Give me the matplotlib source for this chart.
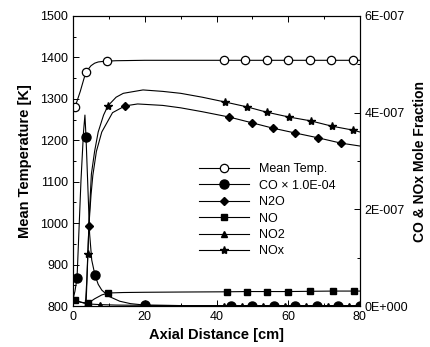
import numpy as np
import matplotlib.pyplot as plt
from matplotlib.ticker import MultipleLocator, FuncFormatter

plt.rcParams['font.family'] = ['Liberation Sans', 'DejaVu Sans']

# ---------------- data ----------------
# mean temperature [K]
temp_x = [0, 0.5, 1, 2, 3, 3.6, 5, 6, 7, 8, 9.5, 12, 20, 30, 42, 48, 54, 60, 66, 72, 78, 80]
temp_y = [1278, 1280, 1292, 1318, 1348, 1365, 1380, 1386, 1389, 1390, 1391, 1392, 1393, 1393,
          1393, 1393, 1393, 1393, 1393, 1393, 1393, 1393]
temp_marks = [0.5, 3.6, 9.5, 42, 48, 54, 60, 66, 72, 78]

# species, mole fraction in units of 1E-007
co_x = [0, 0.5, 1.1, 1.6, 2.2, 2.9, 3.3, 3.6, 4.2, 4.6, 5.2, 6.1, 7, 8, 10, 13, 16, 20, 30,
        44, 50, 56, 62, 68, 74, 80]
co_y = [0.15, 0.3, 0.58, 1.5, 2.6, 3.6, 3.95, 3.5, 2.3, 1.5, 0.95, 0.64, 0.45, 0.33, 0.2, 0.1,
        0.05, 0.02, 0.01, 0.005, 0.005, 0.005, 0.005, 0.005, 0.005, 0.005]
co_marks = [1.1, 3.6, 6.1, 20, 44, 50, 56, 62, 68, 74, 80]

n2o_x = [3.6, 3.9, 4.4, 5, 5.5, 6.5, 8, 11, 14.5, 18, 25, 30, 36, 43.5, 49.9, 55.7, 61.9, 68.3,
         74.7, 80]
n2o_y = [0.0, 0.6, 1.65, 2.3, 2.7, 3.2, 3.6, 4.0, 4.14, 4.18, 4.15, 4.1, 4.02, 3.91, 3.79, 3.68,
         3.58, 3.48, 3.37, 3.31]
n2o_marks = [4.4, 14.5, 43.5, 49.9, 55.7, 61.9, 68.3, 74.7]

no_x = [0, 0.5, 2, 4.2, 6, 8, 9.8, 14, 20, 30, 43, 48.5, 54, 60, 66, 72.5, 78.3, 80]
no_y = [0.15, 0.12, 0.08, 0.06, 0.15, 0.23, 0.27, 0.28, 0.285, 0.29, 0.295, 0.3, 0.3, 0.3, 0.305,
        0.31, 0.31, 0.31]
no_marks = [0.5, 4.2, 9.8, 43, 48.5, 54, 60, 66, 72.5, 78.3]

no2_x = [0, 0.5, 1.5, 3, 5, 7.5, 12, 20, 30, 42, 47, 53, 59, 65, 71, 77, 80]
no2_y = [0.2, 0.15, 0.1, 0.06, 0.04, 0.03, 0.02, 0.015, 0.01, 0.01, 0.01, 0.01, 0.01, 0.01,
         0.01, 0.01, 0.01]
no2_marks = [7.5, 42, 47, 53, 59, 65, 71, 77]

nox_x = [3.4, 3.8, 4.1, 4.6, 5.1, 6, 7, 8.5, 9.7, 12, 14, 19.5, 25, 30, 36, 42.4, 48.5, 54, 60.2,
         66.3, 72.2, 78, 80]
nox_y = [0.0, 0.5, 1.08, 2.0, 2.73, 3.2, 3.6, 3.95, 4.14, 4.32, 4.4, 4.47, 4.44, 4.4, 4.32, 4.22,
         4.12, 4.01, 3.91, 3.83, 3.72, 3.64, 3.6]
nox_marks = [4.1, 9.7, 42.4, 48.5, 54, 60.2, 66.3, 72.2, 78]


def mark_idx(xs, marks):
    return [i for i, x in enumerate(xs) if x in marks]


fig = plt.figure(figsize=(4.30, 3.47), dpi=100)
ax = fig.add_axes([0.170, 0.118, 0.667, 0.836])
ax2 = ax.twinx()

lw = 0.8
h_t, = ax.plot(temp_x, temp_y, color='black', lw=lw, marker='o', ms=6, mfc='white', mew=0.9,
               markevery=mark_idx(temp_x, temp_marks), label='Mean Temp.')

sc = 1e-7
h_co, = ax2.plot(co_x, np.array(co_y) * sc, color='black', lw=lw, marker='o', ms=6.5,
                 markevery=mark_idx(co_x, co_marks), label='CO \u00d7 1.0E-04')
h_n2o, = ax2.plot(n2o_x, np.array(n2o_y) * sc, color='black', lw=lw, marker='D', ms=4.5,
                  markevery=mark_idx(n2o_x, n2o_marks), label='N2O')
h_no, = ax2.plot(no_x, np.array(no_y) * sc, color='black', lw=lw, marker='s', ms=5,
                 markevery=mark_idx(no_x, no_marks), label='NO')
h_no2, = ax2.plot(no2_x, np.array(no2_y) * sc, color='black', lw=lw, marker='^', ms=4.5,
                  markevery=mark_idx(no2_x, no2_marks), label='NO2')
h_nox, = ax2.plot(nox_x, np.array(nox_y) * sc, color='black', lw=lw, marker='*', ms=6,
                  markevery=mark_idx(nox_x, nox_marks), label='NOx')

ax.set_xlim(0, 80)
ax.set_ylim(800, 1500)
ax2.set_ylim(0, 6e-7)

ax.xaxis.set_major_locator(MultipleLocator(20))
ax.xaxis.set_minor_locator(MultipleLocator(10))
ax.yaxis.set_major_locator(MultipleLocator(100))
ax.yaxis.set_minor_locator(MultipleLocator(50))
ax2.yaxis.set_major_locator(MultipleLocator(2e-7))
ax2.yaxis.set_minor_locator(MultipleLocator(1e-7))


def sci_fmt(v, pos):
    if abs(v) < 1e-12:
        return '0E+000'
    return '%dE-007' % round(v / 1e-7)


ax2.yaxis.set_major_formatter(FuncFormatter(sci_fmt))

ax.tick_params(axis='both', which='both', direction='in', top=True, labelsize=9, width=0.7)
ax.tick_params(which='major', length=4)
ax.tick_params(which='minor', length=2.5)
ax2.tick_params(axis='y', which='both', direction='in', labelsize=9, width=0.7)
ax2.tick_params(which='major', length=4)
ax2.tick_params(which='minor', length=2.5)
for a in (ax, ax2):
    for s in a.spines.values():
        s.set_linewidth(0.8)

ax.set_xlabel('Axial Distance [cm]', fontsize=10.5, fontweight='bold', labelpad=4)
ax.set_ylabel('Mean Temperature [K]', fontsize=10.5, fontweight='bold', labelpad=6)
ax2.set_ylabel('CO & NOx Mole Fraction', fontsize=10, fontweight='bold', labelpad=3)

ax2.legend(handles=[h_t, h_co, h_n2o, h_no, h_no2, h_nox], loc='center left',
           bbox_to_anchor=(0.42, 0.33), frameon=False, fontsize=9, handlelength=4,
           handletextpad=0.8, labelspacing=0.35, borderaxespad=0)

fig.savefig('out.png', dpi=100)
